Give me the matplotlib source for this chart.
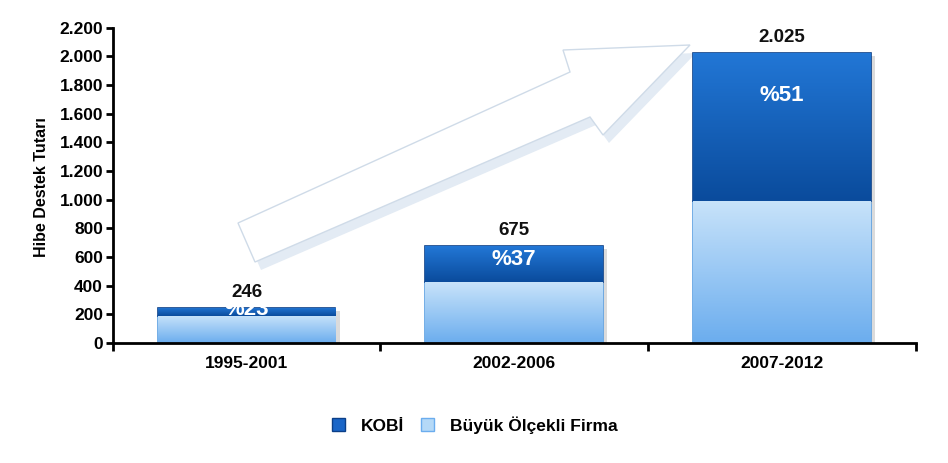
import matplotlib
matplotlib.use('Agg')
import numpy as np
import matplotlib.pyplot as plt
import matplotlib.patheffects as pe
from matplotlib.patches import Patch, Polygon
from matplotlib.colors import LinearSegmentedColormap
from matplotlib.ticker import FuncFormatter

plt.rcParams['font.family'] = ['Liberation Sans', 'DejaVu Sans']
plt.rcParams['font.weight'] = 'bold'

# data
periods = ['1995-2001', '2002-2006', '2007-2012']
kobi = [57, 250, 1033]
buyuk = [189, 425, 992]
totals = [246, 675, 2025]
total_labels = ['246', '675', '2.025']
share_labels = ['%23', '%37', '%51']
series_names = ['KOBİ', 'Büyük Ölçekli Firma']

fig = plt.figure(figsize=(9.48, 4.63), dpi=100)
ax = fig.add_axes([0.119, 0.259, 0.847, 0.681])
ax.patch.set_visible(False)

x = np.arange(len(periods))
bw = 0.664


def gradient_fill(ax, rect, c_top, c_bot):
    x0, y0 = rect.get_x(), rect.get_y()
    w, h = rect.get_width(), rect.get_height()
    cmap = LinearSegmentedColormap.from_list('g', [c_bot, c_top])
    grad = np.linspace(0, 1, 256)[:, None]
    im = ax.imshow(grad, extent=[x0, x0 + w, y0, y0 + h], origin='lower',
                   cmap=cmap, aspect='auto', zorder=rect.get_zorder() + 0.1,
                   interpolation='bilinear')
    im.set_clip_path(rect)


shadow = [pe.SimplePatchShadow(offset=(3, -2), shadow_rgbFace='#999999', alpha=0.35), pe.Normal()]
low = ax.bar(x, buyuk, bw, color='#9ccbf4', edgecolor='#5b9fe2', linewidth=1.2,
             zorder=2, path_effects=shadow)
high = ax.bar(x, kobi, bw, bottom=buyuk, color='#1560c0', edgecolor='#0b3f88',
              linewidth=1.2, zorder=2, path_effects=shadow)
for r in low:
    gradient_fill(ax, r, '#c8e3fa', '#6badee')
for r in high:
    gradient_fill(ax, r, '#2277d6', '#0a4b9c')

# totals above bars
for xi, t, lab in zip(x, totals, total_labels):
    ax.annotate(lab, (xi, t), xytext=(0, 5), textcoords='offset points',
                ha='center', va='bottom', fontsize=13.5, fontweight='bold', color='#111111')

# shares inside KOBI segment
share_y = [231, 582, 1725]
for xi, lab, yy in zip(x, share_labels, share_y):
    ax.text(xi, yy, lab, ha='center', va='center', color='white',
            fontsize=16, fontweight='bold', zorder=5)

ax.set_xlim(-0.5, 2.5)
ax.set_ylim(0, 2200)
ax.set_yticks(np.arange(0, 2201, 200))
ax.yaxis.set_major_formatter(FuncFormatter(lambda v, p: f'{int(v):,}'.replace(',', '.')))
ax.set_xticks([-0.5, 0.5, 1.5, 2.5])
ax.set_xticklabels([])
ax.set_xticks(x, minor=True)
ax.set_xticklabels(periods, minor=True)
ax.tick_params(axis='x', which='minor', length=0, pad=9, labelsize=12.5)
ax.tick_params(axis='x', which='major', length=6, width=2, direction='out')
ax.tick_params(axis='y', length=5, width=2, direction='out', labelsize=12.5, pad=2)
for lbl in ax.get_xticklabels(minor=True) + ax.get_yticklabels():
    lbl.set_fontweight('bold')
for s in ['top', 'right']:
    ax.spines[s].set_visible(False)
for s in ['left', 'bottom']:
    ax.spines[s].set_linewidth(2)

fig.text(0.044, 0.596, 'Hibe Destek Tutarı', rotation=90, ha='center', va='center',
         fontsize=11.5, fontweight='bold')

# decorative hollow arrow (figure pixel coordinates)
pts = [(238, 223), (570, 72), (563, 50), (690, 45), (603, 135), (590, 117), (255, 262)]
W, H = 948, 463
shadow_pts = [((px + 6) / W, 1 - (py + 8) / H) for px, py in pts]
main_pts = [(px / W, 1 - py / H) for px, py in pts]
ax.add_patch(Polygon(shadow_pts, closed=True, transform=fig.transFigure, facecolor='#e3ebf4',
                     edgecolor='none', clip_on=False, zorder=0.5))
ax.add_patch(Polygon(main_pts, closed=True, transform=fig.transFigure, facecolor='white',
                     edgecolor='#cfdbe8', linewidth=1, clip_on=False, zorder=0.6))

handles = [Patch(facecolor='#1a66c8', edgecolor='#0b3f88'),
           Patch(facecolor='#b5d9f7', edgecolor='#6badee')]
fig.legend(handles, series_names, loc='center', bbox_to_anchor=(0.501, 0.082), ncol=2,
           frameon=False, prop={'weight': 'bold', 'size': 12.5}, handlelength=0.75,
           handleheight=0.75, columnspacing=1.0, handletextpad=0.9)

fig.savefig('out.png', dpi=100, facecolor='white')
